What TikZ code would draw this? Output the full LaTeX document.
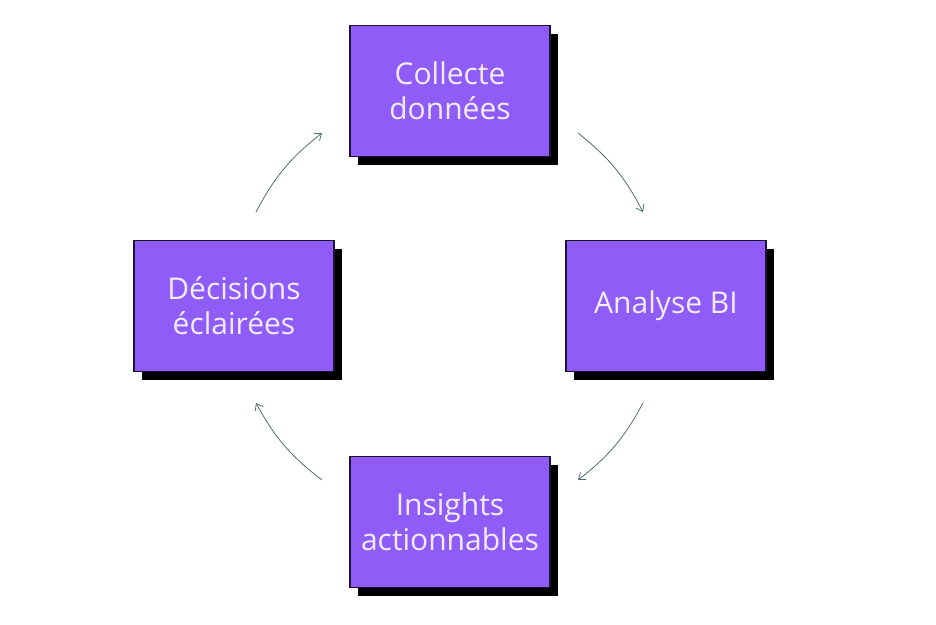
\documentclass[tikz,border=0pt]{standalone}
\usepackage{fontspec}
\setmainfont{Open Sans}
\usetikzlibrary{arrows.meta}
\definecolor{boxfill}{HTML}{8F5CF7}
\definecolor{boxtext}{HTML}{F1ECFF}
\definecolor{arr}{HTML}{4F6D74}
\begin{document}
\begin{tikzpicture}[x=1pt,y=-1pt,
  box/.style={draw=black!80!boxfill,line width=1.2pt,fill=boxfill,minimum width=200pt,minimum height=131pt,
    text=boxtext,font=\fontsize{30}{35}\selectfont,align=center,inner sep=0pt},
  shad/.style={fill=black,minimum width=200pt,minimum height=131pt,inner sep=0pt},
  conn/.style={draw=arr,line width=0.8pt,-{Straight Barb[length=6pt,width=9pt]}}]
\useasboundingbox (0,0) rectangle (936,624);
\fill[white] (0,0) rectangle (936,624);
\foreach \x/\y/\n in {450/91/s1,666/306/s2,450/522/s3,234/306/s4}
  \node[shad] (\n) at (\x+8,\y+8) {};
\node[box] (top) at (450,91) {Collecte\\données};
\node[box] (right) at (666,306) {Analyse BI};
\node[box] (bottom) at (450,522) {Insights\\actionnables};
\node[box] (left) at (234,306) {Décisions\\éclairées};
\coordinate (a1) at (578,133); \coordinate (b1) at (643,212);
\coordinate (a2) at (643,403); \coordinate (b2) at (578,480);
\coordinate (a3) at (322,480); \coordinate (b3) at (256,403);
\coordinate (a4) at (256,212); \coordinate (b4) at (322,133);
\draw[conn] (a1) to[bend left=12] (b1);
\draw[conn] (a2) to[bend left=12] (b2);
\draw[conn] (a3) to[bend left=12] (b3);
\draw[conn] (a4) to[bend left=12] (b4);
\end{tikzpicture}
\end{document}
